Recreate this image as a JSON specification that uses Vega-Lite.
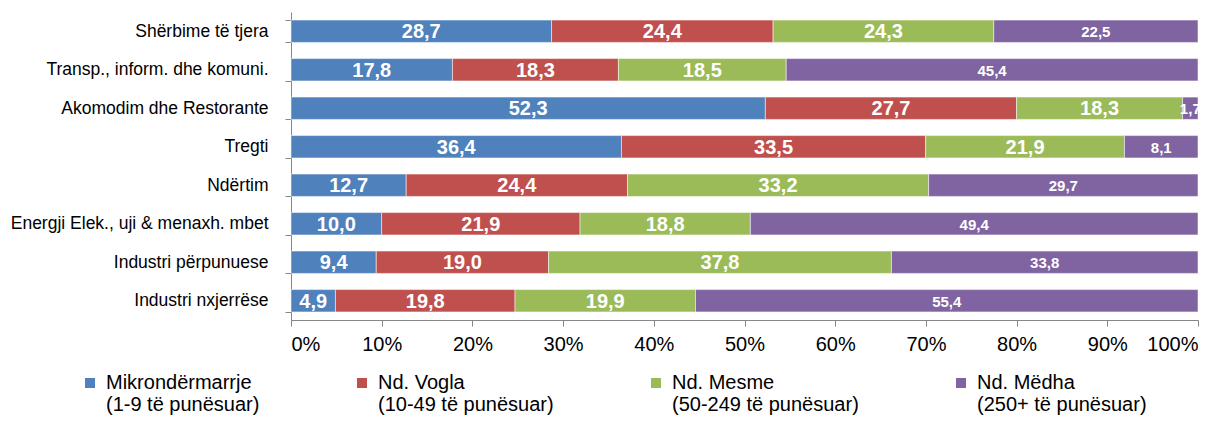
{
  "$schema": "https://vega.github.io/schema/vega-lite/v6.json",
  "width": 907,
  "height": 308,
  "autosize": {"type": "none"},
  "padding": {"left": 291, "top": 12, "right": 29, "bottom": 105},
  "config": {
    "font": "Liberation Sans",
    "view": {"stroke": null},
    "locale": {"number": {"decimal": ",", "thousands": ".", "grouping": [3], "currency": ["", " €"]}}
  },
  "data": {
    "values": [
      {"sektori": "Shërbime të tjera", "klasa": "Mikrondërmarrje (1-9 të punësuar)", "k": 0, "vlera": 28.7},
      {"sektori": "Shërbime të tjera", "klasa": "Nd. Vogla (10-49 të punësuar)", "k": 1, "vlera": 24.4},
      {"sektori": "Shërbime të tjera", "klasa": "Nd. Mesme (50-249 të punësuar)", "k": 2, "vlera": 24.3},
      {"sektori": "Shërbime të tjera", "klasa": "Nd. Mëdha (250+ të punësuar)", "k": 3, "vlera": 22.5},
      {"sektori": "Transp., inform. dhe komuni.", "klasa": "Mikrondërmarrje (1-9 të punësuar)", "k": 0, "vlera": 17.8},
      {"sektori": "Transp., inform. dhe komuni.", "klasa": "Nd. Vogla (10-49 të punësuar)", "k": 1, "vlera": 18.3},
      {"sektori": "Transp., inform. dhe komuni.", "klasa": "Nd. Mesme (50-249 të punësuar)", "k": 2, "vlera": 18.5},
      {"sektori": "Transp., inform. dhe komuni.", "klasa": "Nd. Mëdha (250+ të punësuar)", "k": 3, "vlera": 45.4},
      {"sektori": "Akomodim dhe Restorante", "klasa": "Mikrondërmarrje (1-9 të punësuar)", "k": 0, "vlera": 52.3},
      {"sektori": "Akomodim dhe Restorante", "klasa": "Nd. Vogla (10-49 të punësuar)", "k": 1, "vlera": 27.7},
      {"sektori": "Akomodim dhe Restorante", "klasa": "Nd. Mesme (50-249 të punësuar)", "k": 2, "vlera": 18.3},
      {"sektori": "Akomodim dhe Restorante", "klasa": "Nd. Mëdha (250+ të punësuar)", "k": 3, "vlera": 1.7},
      {"sektori": "Tregti", "klasa": "Mikrondërmarrje (1-9 të punësuar)", "k": 0, "vlera": 36.4},
      {"sektori": "Tregti", "klasa": "Nd. Vogla (10-49 të punësuar)", "k": 1, "vlera": 33.5},
      {"sektori": "Tregti", "klasa": "Nd. Mesme (50-249 të punësuar)", "k": 2, "vlera": 21.9},
      {"sektori": "Tregti", "klasa": "Nd. Mëdha (250+ të punësuar)", "k": 3, "vlera": 8.1},
      {"sektori": "Ndërtim", "klasa": "Mikrondërmarrje (1-9 të punësuar)", "k": 0, "vlera": 12.7},
      {"sektori": "Ndërtim", "klasa": "Nd. Vogla (10-49 të punësuar)", "k": 1, "vlera": 24.4},
      {"sektori": "Ndërtim", "klasa": "Nd. Mesme (50-249 të punësuar)", "k": 2, "vlera": 33.2},
      {"sektori": "Ndërtim", "klasa": "Nd. Mëdha (250+ të punësuar)", "k": 3, "vlera": 29.7},
      {"sektori": "Energji Elek., uji & menaxh. mbet", "klasa": "Mikrondërmarrje (1-9 të punësuar)", "k": 0, "vlera": 10.0},
      {"sektori": "Energji Elek., uji & menaxh. mbet", "klasa": "Nd. Vogla (10-49 të punësuar)", "k": 1, "vlera": 21.9},
      {"sektori": "Energji Elek., uji & menaxh. mbet", "klasa": "Nd. Mesme (50-249 të punësuar)", "k": 2, "vlera": 18.8},
      {"sektori": "Energji Elek., uji & menaxh. mbet", "klasa": "Nd. Mëdha (250+ të punësuar)", "k": 3, "vlera": 49.4},
      {"sektori": "Industri përpunuese", "klasa": "Mikrondërmarrje (1-9 të punësuar)", "k": 0, "vlera": 9.4},
      {"sektori": "Industri përpunuese", "klasa": "Nd. Vogla (10-49 të punësuar)", "k": 1, "vlera": 19.0},
      {"sektori": "Industri përpunuese", "klasa": "Nd. Mesme (50-249 të punësuar)", "k": 2, "vlera": 37.8},
      {"sektori": "Industri përpunuese", "klasa": "Nd. Mëdha (250+ të punësuar)", "k": 3, "vlera": 33.8},
      {"sektori": "Industri nxjerrëse", "klasa": "Mikrondërmarrje (1-9 të punësuar)", "k": 0, "vlera": 4.9},
      {"sektori": "Industri nxjerrëse", "klasa": "Nd. Vogla (10-49 të punësuar)", "k": 1, "vlera": 19.8},
      {"sektori": "Industri nxjerrëse", "klasa": "Nd. Mesme (50-249 të punësuar)", "k": 2, "vlera": 19.9},
      {"sektori": "Industri nxjerrëse", "klasa": "Nd. Mëdha (250+ të punësuar)", "k": 3, "vlera": 55.4}
    ]
  },
  "encoding": {
    "y": {
      "field": "sektori",
      "type": "nominal",
      "sort": ["Shërbime të tjera", "Transp., inform. dhe komuni.", "Akomodim dhe Restorante", "Tregti", "Ndërtim", "Energji Elek., uji & menaxh. mbet", "Industri përpunuese", "Industri nxjerrëse"],
      "scale": {"paddingInner": 0.42, "paddingOuter": 0.21},
      "axis": {
        "title": null,
        "labelFontSize": 17.5,
        "labelColor": "#000000",
        "labelPadding": 17,
        "labelLimit": 400,
        "tickBand": "extent",
        "tickSize": 6,
        "tickColor": "#868686",
        "domainColor": "#868686"
      }
    },
    "order": {"field": "k", "type": "quantitative"}
  },
  "layer": [
    {
      "mark": {"type": "bar", "stroke": "#ffffff", "strokeOpacity": 0.5, "strokeWidth": 1},
      "encoding": {
        "x": {
          "field": "vlera",
          "type": "quantitative",
          "stack": "normalize",
          "scale": {"domain": [0, 1], "nice": false},
          "axis": {
            "title": null,
            "values": [0, 0.1, 0.2, 0.3, 0.4, 0.5, 0.6, 0.7, 0.8, 0.9, 1],
            "format": ".0%",
            "grid": false,
            "labelFontSize": 20,
            "labelColor": "#000000",
            "labelPadding": 8,
            "tickSize": 6,
            "tickColor": "#868686",
            "domainColor": "#868686"
          }
        },
        "color": {
          "field": "klasa",
          "type": "nominal",
          "scale": {
            "domain": ["Mikrondërmarrje (1-9 të punësuar)", "Nd. Vogla (10-49 të punësuar)", "Nd. Mesme (50-249 të punësuar)", "Nd. Mëdha (250+ të punësuar)"],
            "range": ["#4F81BD", "#C0504D", "#9BBB59", "#8064A2"]
          },
          "legend": {
            "title": null,
            "orient": "none",
            "legendX": -211,
            "legendY": 361,
            "direction": "horizontal",
            "columns": 4,
            "symbolType": "square",
            "symbolSize": 100,
            "symbolStrokeWidth": 0,
            "labelFontSize": 20,
            "labelColor": "#000000",
            "labelOffset": 6,
            "labelLimit": 400,
            "columnPadding": 92,
            "labelExpr": "split(replace(datum.label, ' (', '|('), '|')"
          }
        }
      }
    },
    {
      "mark": {"type": "text", "color": "#ffffff", "fontWeight": "bold", "align": "center", "baseline": "middle", "dy": 1},
      "encoding": {
        "x": {
          "field": "vlera",
          "type": "quantitative",
          "stack": "normalize",
          "bandPosition": 0.5
        },
        "detail": {"field": "klasa", "type": "nominal"},
        "text": {"field": "vlera", "type": "quantitative", "format": ".1f"},
        "size": {"condition": {"test": "datum.k == 3", "value": 15}, "value": 20}
      }
    }
  ]
}
